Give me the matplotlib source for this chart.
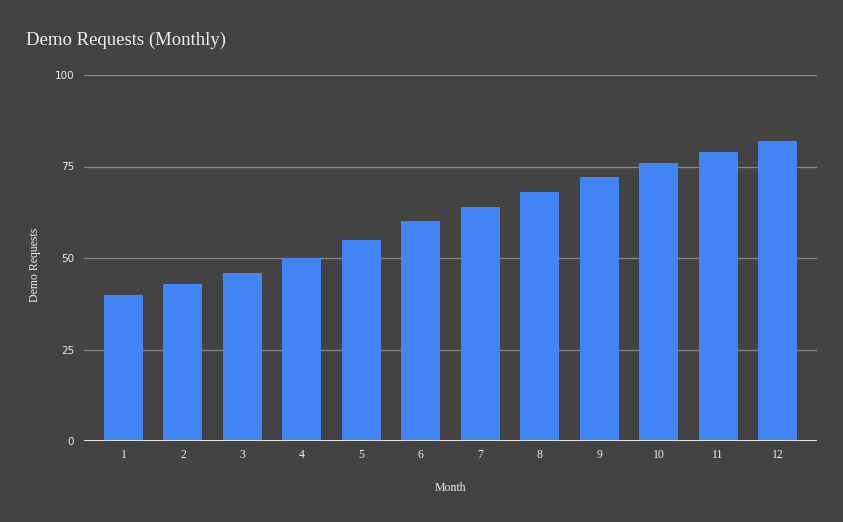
import matplotlib.pyplot as plt

# monthly demo requests
months = [1, 2, 3, 4, 5, 6, 7, 8, 9, 10, 11, 12]
requests_count = [40, 43, 46, 50, 55, 60, 64, 68, 72, 76, 79, 82]
yticks = [0, 25, 50, 75, 100]

bg = "#434343"
bar_color = "#4285f4"
text_color = "#eeeeee"

plt.rcParams["font.family"] = ["Liberation Serif", "DejaVu Serif"]

fig = plt.figure(figsize=(8.43, 5.22), dpi=100, facecolor=bg)
ax = fig.add_axes([84 / 843, 81 / 522, (817 - 84) / 843, (441 - 75) / 522])
ax.set_facecolor(bg)

ax.bar(months, requests_count, width=0.656, color=bar_color, zorder=3)

ax.set_xlim(1 - 0.664, 12 + 0.664)
ax.set_ylim(0, 100)
ax.set_yticks(yticks)
ax.set_xticks(months)
ax.yaxis.grid(True, color="#8a8a8a", linewidth=0.9, zorder=0)
ax.axhline(0, color="#ffffff", linewidth=1.2, zorder=4)

for side in ["top", "right", "left", "bottom"]:
    ax.spines[side].set_visible(False)
ax.tick_params(axis="both", length=0, colors=text_color, labelsize=8.5)
ax.tick_params(axis="y", pad=7)
ax.tick_params(axis="x", pad=6)
for lbl in ax.get_yticklabels():
    lbl.set_fontfamily(["DejaVu Sans"])
    lbl.set_fontsize(7.5)

# axis titles placed on the figure, as in the reference
fig.text(450 / 843, 1 - 488 / 522, "Month", color=text_color,
         fontsize=8.5, ha="center", va="center")
fig.text(35 / 843, 1 - 265 / 522, "Demo Requests", color=text_color,
         fontsize=8.5, ha="center", va="center", rotation=90)
fig.text(26 / 843, 1 - 40 / 522, "Demo Requests (Monthly)", color=text_color,
         fontsize=13.5, va="center", ha="left")

fig.savefig("out.png", dpi=100, facecolor=bg)
